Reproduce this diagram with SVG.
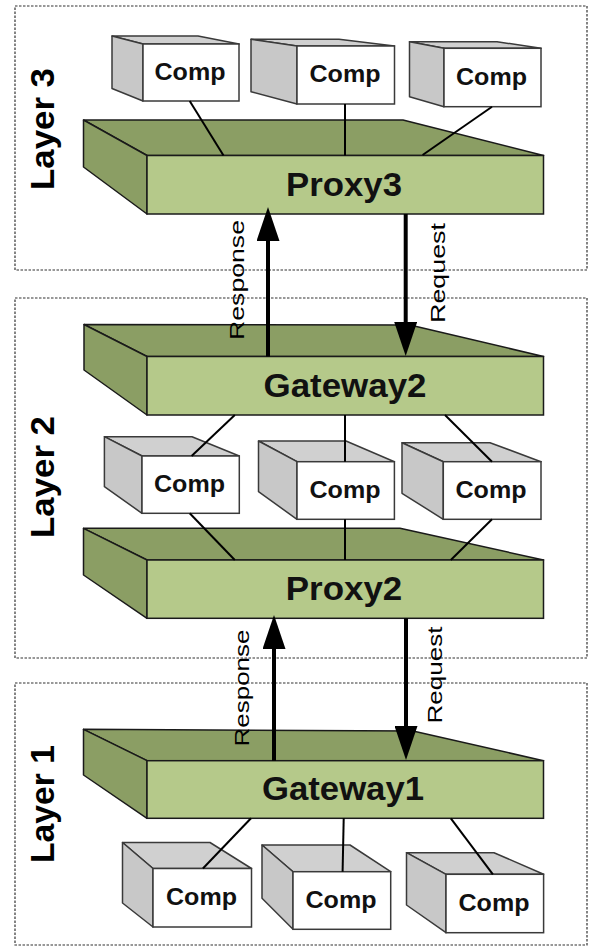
<svg xmlns="http://www.w3.org/2000/svg" width="589" height="947" viewBox="0 0 589 947">
<style>
.layer{fill:#ffffff;stroke:#333;stroke-width:1.2;stroke-dasharray:2.5,1.5}
.ltxt{font-family:"Liberation Sans",Arial,sans-serif;font-weight:bold;font-size:34px;fill:#000}
.sl-top{fill:#8b9e64;stroke:#1a1a1a;stroke-width:1.5;stroke-linejoin:round}
.sl-left{fill:#8b9e64;stroke:#1a1a1a;stroke-width:1.5;stroke-linejoin:round}
.sl-front{fill:#b5c98a;stroke:#1a1a1a;stroke-width:1.5}
.sltxt{font-family:"Liberation Sans",Arial,sans-serif;font-weight:bold;font-size:33px;fill:#111;text-anchor:middle}
.c-top{fill:#d0d0d0;stroke:#3a3a3a;stroke-width:1.5;stroke-linejoin:round}
.c-left{fill:#c8c8c8;stroke:#3a3a3a;stroke-width:1.5;stroke-linejoin:round}
.c-front{fill:#ffffff;stroke:#3a3a3a;stroke-width:1.5}
.ctxt{font-family:"Liberation Sans",Arial,sans-serif;font-weight:bold;font-size:24px;fill:#111;text-anchor:middle}
.link{stroke:#000;stroke-width:2;fill:none}
.arrow{stroke:#000;stroke-width:4;fill:none}
.atxt{font-family:"Liberation Sans",Arial,sans-serif;font-size:21px;fill:#000;text-anchor:middle}
</style>
<defs>
<marker id="ah" viewBox="0 0 34 23" markerWidth="34" markerHeight="23" refX="2" refY="11.5" orient="auto" markerUnits="userSpaceOnUse">
<path d="M0,0 L34,11.5 L0,23 z" fill="#000"/>
</marker>
</defs>

<!-- Layer frames -->
<g id="layer3">
<rect class="layer" x="15" y="6" width="572" height="264"/>
<text class="ltxt" transform="translate(54,129) rotate(-90)" text-anchor="middle" textLength="122" lengthAdjust="spacingAndGlyphs">Layer 3</text>
</g>
<g id="layer2">
<rect class="layer" x="15" y="298" width="572" height="360"/>
<text class="ltxt" transform="translate(54,477) rotate(-90)" text-anchor="middle" textLength="122" lengthAdjust="spacingAndGlyphs">Layer 2</text>
</g>
<g id="layer1">
<rect class="layer" x="15" y="683" width="572" height="262"/>
<text class="ltxt" transform="translate(54,804) rotate(-90)" text-anchor="middle" textLength="118" lengthAdjust="spacingAndGlyphs">Layer 1</text>
</g>

<!-- Layer 3 comps -->
<g id="l3c1">
<polygon class="c-top" points="112,36 198,36 239,44 143,44"/>
<polygon class="c-left" points="112,36 143,44 143,101 112,88.5"/>
<rect class="c-front" x="143" y="44" width="96" height="57"/>
<text class="ctxt" x="190" y="80" textLength="71" lengthAdjust="spacingAndGlyphs">Comp</text>
</g>
<g id="l3c2">
<polygon class="c-top" points="251,39.3 339,39.3 394.5,46 297,46"/>
<polygon class="c-left" points="251,39.3 297,46 297,104 251,91.7"/>
<rect class="c-front" x="297" y="46" width="97.5" height="58"/>
<text class="ctxt" x="345" y="82" textLength="71" lengthAdjust="spacingAndGlyphs">Comp</text>
</g>
<g id="l3c3">
<polygon class="c-top" points="409.5,41.7 497,41.7 541,48.3 444,48.3"/>
<polygon class="c-left" points="409.5,41.7 444,48.3 444,106.7 409.5,96.7"/>
<rect class="c-front" x="444" y="48.3" width="97" height="58.4"/>
<text class="ctxt" x="491.5" y="84.5" textLength="71" lengthAdjust="spacingAndGlyphs">Comp</text>
</g>

<!-- Proxy3 -->
<g id="proxy3">
<polygon class="sl-top" points="83.5,120 403,120 543.5,155.5 147,155.5"/>
<polygon class="sl-left" points="83.5,120 147,155.5 147,214 83.5,167"/>
<rect class="sl-front" x="147" y="155.5" width="396.5" height="58.5"/>
<text class="sltxt" x="344" y="196" textLength="116" lengthAdjust="spacingAndGlyphs">Proxy3</text>
</g>

<!-- Gateway2 -->
<g id="gateway2">
<polygon class="sl-top" points="84,324.5 410,325 543.5,356.5 147,356.5"/>
<polygon class="sl-left" points="84,324.5 147,356.5 147,415 84,370"/>
<rect class="sl-front" x="147" y="356.5" width="396.5" height="58.5"/>
<text class="sltxt" x="345" y="396.5" textLength="163" lengthAdjust="spacingAndGlyphs">Gateway2</text>
</g>

<!-- Layer 2 comps -->
<g id="l2c1">
<polygon class="c-top" points="104.4,436.7 192,436.7 239.3,456 142,456"/>
<polygon class="c-left" points="104.4,436.7 142,456 142,513.3 104.4,486.7"/>
<rect class="c-front" x="142" y="456" width="97.3" height="57.3"/>
<text class="ctxt" x="189.5" y="492" textLength="71" lengthAdjust="spacingAndGlyphs">Comp</text>
</g>
<g id="l2c2">
<polygon class="c-top" points="258.5,441 346,441 394.4,461.7 297,461.7"/>
<polygon class="c-left" points="258.5,441 297,461.7 297,519.3 258.5,491.7"/>
<rect class="c-front" x="297" y="461.7" width="97.4" height="57.6"/>
<text class="ctxt" x="345" y="498" textLength="71" lengthAdjust="spacingAndGlyphs">Comp</text>
</g>
<g id="l2c3">
<polygon class="c-top" points="402,442.7 490,442.7 541,461.7 443.3,461.7"/>
<polygon class="c-left" points="402,442.7 443.3,461.7 443.3,519.3 402,493.3"/>
<rect class="c-front" x="443.3" y="461.7" width="97.7" height="57.6"/>
<text class="ctxt" x="491" y="498" textLength="71" lengthAdjust="spacingAndGlyphs">Comp</text>
</g>

<!-- Proxy2 -->
<g id="proxy2">
<polygon class="sl-top" points="83.5,528.3 400,528.3 543.5,560 147,560"/>
<polygon class="sl-left" points="83.5,528.3 147,560 147,618.3 83.5,575"/>
<rect class="sl-front" x="147" y="560" width="396.5" height="58.3"/>
<text class="sltxt" x="344" y="600" textLength="116.5" lengthAdjust="spacingAndGlyphs">Proxy2</text>
</g>

<!-- Gateway1 -->
<g id="gateway1">
<polygon class="sl-top" points="83.5,729.3 413,731 543.5,760.7 147,760.7"/>
<polygon class="sl-left" points="83.5,729.3 147,760.7 147,818.3 83.5,775"/>
<rect class="sl-front" x="147" y="760.7" width="396.5" height="57.6"/>
<text class="sltxt" x="343" y="800" textLength="162" lengthAdjust="spacingAndGlyphs">Gateway1</text>
</g>

<!-- Layer 1 comps -->
<g id="l1c1">
<polygon class="c-top" points="122.5,842.5 210,842.5 251.5,868.5 153,868.5"/>
<polygon class="c-left" points="122.5,842.5 153,868.5 153,927 122.5,903"/>
<rect class="c-front" x="153" y="868.5" width="98.5" height="58.5"/>
<text class="ctxt" x="201.5" y="904.5" textLength="71" lengthAdjust="spacingAndGlyphs">Comp</text>
</g>
<g id="l1c2">
<polygon class="c-top" points="262,845 350,845 390.7,871.7 293,871.7"/>
<polygon class="c-left" points="262,845 293,871.7 293,929.3 262,898.3"/>
<rect class="c-front" x="293" y="871.7" width="97.7" height="57.6"/>
<text class="ctxt" x="341" y="907.7" textLength="71" lengthAdjust="spacingAndGlyphs">Comp</text>
</g>
<g id="l1c3">
<polygon class="c-top" points="406.5,852.7 494,852.7 543.6,874.3 446,874.3"/>
<polygon class="c-left" points="406.5,852.7 446,874.3 446,932.7 406.5,905"/>
<rect class="c-front" x="446" y="874.3" width="97.6" height="58.4"/>
<text class="ctxt" x="494" y="910.5" textLength="71" lengthAdjust="spacingAndGlyphs">Comp</text>
</g>

<!-- Connectors -->
<g id="connectors">
<line class="link" x1="189.7" y1="101" x2="223.5" y2="155.5"/>
<line class="link" x1="345" y1="104" x2="345" y2="155.5"/>
<line class="link" x1="492" y1="106.7" x2="422.6" y2="155"/>

<line class="link" x1="234.8" y1="415" x2="191.6" y2="456"/>
<line class="link" x1="345" y1="415" x2="345" y2="461.7"/>
<line class="link" x1="445" y1="415" x2="492" y2="461.7"/>

<line class="link" x1="189.7" y1="513.3" x2="234.8" y2="560"/>
<line class="link" x1="345" y1="519.3" x2="345" y2="560"/>
<line class="link" x1="492" y1="519.3" x2="450.8" y2="560"/>

<line class="link" x1="251" y1="818.3" x2="202.9" y2="868.5"/>
<line class="link" x1="343.7" y1="818.3" x2="342.6" y2="871.7"/>
<line class="link" x1="450.8" y1="818.3" x2="492.9" y2="874.3"/>

<line class="arrow" x1="268" y1="356.5" x2="268" y2="239" marker-end="url(#ah)"/>
<line class="arrow" x1="405.7" y1="214" x2="405.7" y2="324" marker-end="url(#ah)"/>
<line class="arrow" x1="274" y1="760.7" x2="274" y2="647" marker-end="url(#ah)"/>
<line class="arrow" x1="406" y1="618.3" x2="406" y2="728" marker-end="url(#ah)"/>
</g>

<!-- Arrow labels -->
<g id="labels">
<text class="atxt" transform="translate(244,280) rotate(-90)" textLength="120" lengthAdjust="spacingAndGlyphs">Response</text>
<text class="atxt" transform="translate(444.5,273) rotate(-90)" textLength="100" lengthAdjust="spacingAndGlyphs">Request</text>
<text class="atxt" transform="translate(249,688) rotate(-90)" textLength="117" lengthAdjust="spacingAndGlyphs">Response</text>
<text class="atxt" transform="translate(442,675) rotate(-90)" textLength="97" lengthAdjust="spacingAndGlyphs">Request</text>
</g>
</svg>
